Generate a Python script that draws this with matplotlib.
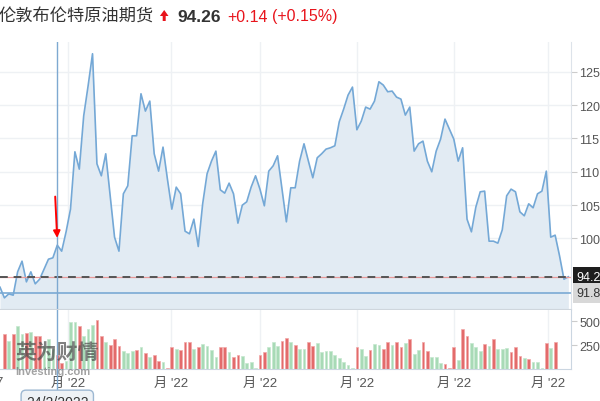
import numpy as np
import matplotlib
matplotlib.use("Agg")
import matplotlib.pyplot as plt
from matplotlib.patches import Polygon
from matplotlib.transforms import IdentityTransform, blended_transform_factory

plt.rcParams['font.family'] = ['Liberation Sans', 'Noto Sans CJK SC', 'DejaVu Sans']

# daily settle prices (USD)
prices = [
    92.7, 91.1, 91.7, 91.5, 95.0, 96.6, 93.5, 95.0, 93.2, 93.9,
    95.4, 96.9, 97.1, 99.0, 98.1, 101.0, 104.4, 113.0, 110.4, 118.4,
    122.9, 127.7, 111.2, 109.4, 112.7, 106.4, 100.2, 98.1, 106.7, 107.9,
    115.4, 115.4, 121.7, 119.1, 120.6, 112.7, 110.1, 113.7, 108.9, 104.4,
    107.7, 106.7, 101.1, 100.7, 102.9, 98.8,
    105.2, 109.7, 111.6, 113.1, 107.3, 106.8, 108.3, 106.7, 102.3, 105.0,
    105.5, 107.7, 109.4, 107.4, 104.9, 110.1, 110.9, 112.4, 107.4, 102.5,
    107.6, 107.6, 111.6, 114.2, 111.6, 109.1, 112.1, 112.7, 113.4, 113.6,
    113.9, 117.5, 119.4, 121.5, 122.7, 116.3, 117.6, 119.7, 119.4, 120.6,
    123.5, 123.0, 122.0, 122.1, 121.2,
    120.9, 118.5, 119.7, 113.1, 114.2, 114.6, 111.6, 110.0, 113.1, 114.9,
    117.9, 116.4, 114.9, 111.6, 113.6, 102.9, 101.0, 104.7, 107.0, 107.1,
    99.6, 99.6, 99.3, 101.3, 106.4, 107.4, 107.0, 104.0, 103.4, 105.2,
    104.6, 106.7, 107.1, 110.1, 100.2, 100.5, 97.4, 93.9, 94.26,
]

# volume in thousands, and up (u) / down (d) day
volumes = [
    365, 289, 365, 445, 365, 372, 382, 341, 341, 243,
    312, 208, 146, 62, 83, 486, 486, 451, 347, 417,
    461, 514, 341, 278, 253, 312, 243, 191, 164, 184,
    198, 226, 164, 122, 146, 86, 70, 7, 232, 208,
    198, 278, 284, 208, 232, 260, 240, 198, 122, 232,
    232, 174, 122, 146, 132, 59, 70, 7, 146, 174,
    232, 278, 243, 295, 320, 278, 253, 208, 208, 278,
    243, 268, 174, 191, 184, 146, 115, 70, 42, 7,
    232, 208, 139, 198, 260, 253, 208, 284, 253, 284,
    226, 268, 312, 156, 198, 284, 191, 128, 122, 59,
    52, 7, 232, 94, 417, 341, 271, 232, 191, 260,
    243, 312, 208, 208, 219, 174, 226, 132, 115, 104,
    70, 70, 10, 268, 219, 284,
]
direction = (
    "duduududdu" "uudduuuduu" "udduddduuu" "dududduddu"
    "ddduduuuud" "dudduuuudd" "uuudduduud" "duuuuuuuuu"
    "duuduuddud" "duduudduuu" "dddudduuud" "uduuudddud"
    "uuudud"
)

price_ticks = [100, 105, 110, 115, 120, 125]
month_ticks = [15.4, 38.8, 59.0, 81.0, 103.1, 124.4]
month_labels = ["月 '22"] * 6
last_price = 94.26
low_mark = 91.8
cursor_idx = 13

LINE = '#74a8d6'
FILL = '#e2ebf3'
GRID = '#eef1f4'
TXT = '#555555'

fig = plt.figure(figsize=(6, 4.02), dpi=100)
W, H = 600.0, 402.0

ax = fig.add_axes([0, 1 - 310 / H, 571 / W, 267 / H])
x = np.arange(len(prices))
ax.fill_between(x, prices, 80, color=FILL, lw=0)
ax.plot(x, prices, color=LINE, lw=1.2)
ax.set_xlim(0, 129.6)
ax.set_ylim(89.43, 129.46)
for v in price_ticks:
    ax.axhline(v, color=GRID, lw=1, zorder=0)
for t in month_ticks:
    ax.axvline(t, color=GRID, lw=1, zorder=0)

ax.axhline(last_price - 0.06, color='#e99a9a', lw=0.9)
ax.axhline(last_price, color='#555555', lw=1.4, dashes=(4, 3))
ax.axhline(low_mark, color='#7aaad4', lw=1.2)

ax.yaxis.tick_right()
ax.set_yticks(price_ticks)
ax.set_yticklabels(['%.2f' % v for v in price_ticks])
ax.tick_params(axis='y', length=4, color='#cccccc', labelsize=9, labelcolor=TXT, pad=2)
ax.set_xticks([])
for s in ['top', 'left']:
    ax.spines[s].set_visible(False)
ax.spines['right'].set_color('#dde3ea')
ax.spines['bottom'].set_color('#cfd6dd')

tr = blended_transform_factory(ax.transAxes, ax.transData)
ax.text(1.0096, last_price, '%.2f' % last_price, transform=tr, color='white', fontsize=9,
        va='center', ha='left', clip_on=False,
        bbox=dict(boxstyle='square,pad=0.3', fc='#1e1e1e', ec='none'))
ax.text(1.0096, low_mark, '%.2f' % low_mark, transform=tr, color='#333333', fontsize=9,
        va='center', ha='left', clip_on=False,
        bbox=dict(boxstyle='square,pad=0.3', fc='#d8d8d8', ec='none'))

ax.annotate('', xy=(cursor_idx, 99.67), xytext=(12.5, 106.7),
            arrowprops=dict(arrowstyle='-|>', color='red', lw=1.4, mutation_scale=10))

# volume panel
ax2 = fig.add_axes([0, 1 - 370 / H, 571 / W, 59 / H], sharex=ax)
vx = np.arange(1, len(volumes) + 1)
cols = ['#e36b6b' if d == 'd' else '#a8dab6' for d in direction]
edges = ['#f2a8a8' if d == 'd' else '#c6e8cf' for d in direction]
ax2.bar(vx, volumes, width=0.62, color=cols, edgecolor=edges, lw=0.5)
ax2.set_ylim(0, 614.6)
ax2.set_xlim(0, 129.6)
for t in month_ticks:
    ax2.axvline(t, color=GRID, lw=1, zorder=0)
ax2.yaxis.tick_right()
ax2.set_yticks([250, 500])
ax2.set_yticklabels(['250K', '500K'])
ax2.tick_params(axis='y', length=4, color='#cccccc', labelsize=9, labelcolor=TXT, pad=2)
ax2.set_xticks(month_ticks)
ax2.set_xticklabels(month_labels)
ax2.tick_params(axis='x', length=0, labelsize=9.5, labelcolor=TXT, pad=6)
ax2.spines['top'].set_visible(False)
ax2.spines['left'].set_visible(False)
ax2.spines['right'].set_color('#cbd6e1')
ax2.spines['bottom'].set_color('#cbd6e1')

# watermark
ax2.text(15 / 571, 0.30, '英为财情', transform=ax2.transAxes, fontsize=15, fontweight='bold',
         color='#4a4a4a', alpha=0.7, va='center', ha='left', family=['Noto Sans CJK SC'])
ax2.text(15 / 571, -0.04, 'Investing.com', transform=ax2.transAxes, fontsize=8, fontweight='bold',
         color='#666666', alpha=0.6, va='center', ha='left')

# cursor line through both panels
ax.axvline(cursor_idx, color='#7ea9d1', lw=1)
ax2.axvline(cursor_idx, color='#7ea9d1', lw=1)
fig.canvas.draw()
cx = ax.transData.transform((cursor_idx, 100))[0]
fig.add_artist(plt.Line2D([cx, cx], [H - 393, H - 370], transform=IdentityTransform(),
                          color='#7ea9d1', lw=1))
fig.text(cx / W, 1 - 396 / H, '24/2/2022', fontsize=10, color='#333333', ha='center', va='top',
         bbox=dict(boxstyle='round,pad=0.35', fc='#eef2f6', ec='#9db8d2', lw=1))
fig.text(3 / W, 1 - 383 / H, '7', fontsize=9.5, color=TXT, ha='right', va='center')

# header
fig.text(-1 / W, 1 - 17 / H, '伦敦布伦特原油期货', fontsize=12.4, color='#333333',
         va='center', ha='left', family=['Noto Sans CJK SC'])
arrow = Polygon([(164.2, H - 11), (168.5, H - 17), (165.7, H - 17), (165.7, H - 22),
                 (162.7, H - 22), (162.7, H - 17), (159.9, H - 17)],
                closed=True, fc='#e8141c', ec='none', transform=IdentityTransform())
fig.add_artist(arrow)
fig.text(177 / W, 1 - 17 / H, '%.2f' % last_price, fontsize=12.5, fontweight='bold',
         color='#333333', va='center', ha='left')
fig.text(227 / W, 1 - 17 / H, '+0.14', fontsize=11.5, color='#e8141c', va='center', ha='left')
fig.text(272 / W, 1 - 17 / H, '(+0.15%)', fontsize=11.5, color='#e8141c', va='center', ha='left')

fig.savefig('out.png', dpi=100)
